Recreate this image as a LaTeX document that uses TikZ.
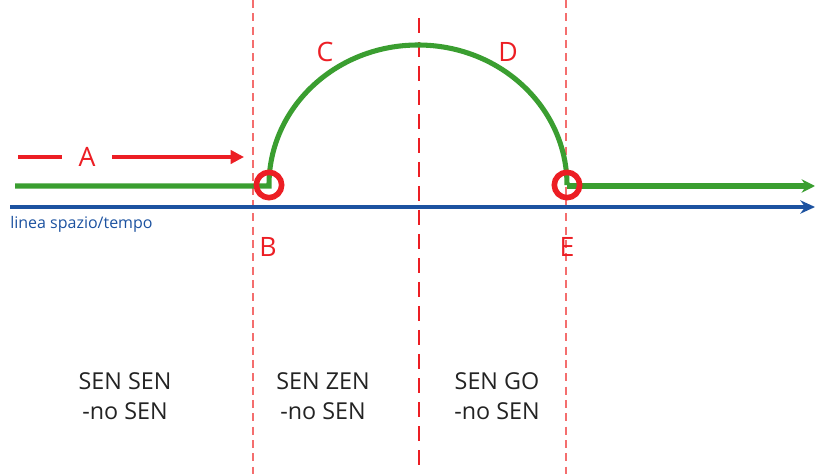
\documentclass[tikz,border=0pt]{standalone}
\usepackage{fontspec}
\setmainfont{Open Sans}
\usetikzlibrary{arrows.meta}
\definecolor{gline}{RGB}{58,158,48}
\definecolor{bline}{RGB}{28,82,160}
\definecolor{rline}{RGB}{236,30,36}
\definecolor{rdash}{RGB}{244,110,110}
\definecolor{txt}{RGB}{35,35,35}
\tikzset{
  thindash/.style={draw=rdash, line width=1.3pt, dash pattern=on 6pt off 4pt},
  middash/.style={draw=rline, line width=1.8pt, dash pattern=on 11pt off 7pt},
  letter/.style={text=rline, font=\fontsize{20}{24}\selectfont, inner sep=0pt},
  zone/.style={text=txt, font=\fontsize{17.5}{22.5}\selectfont, align=center, inner sep=0pt},
  ring/.style={draw=rline, line width=4.2pt, circle, minimum size=19pt, inner sep=0pt},
}
\begin{document}
\begin{tikzpicture}[x=0.75pt,y=-0.75pt]
\useasboundingbox (0,0) rectangle (815,474);
% dashed verticals
\coordinate (v1t) at (253,0); \coordinate (v1b) at (253,474);
\coordinate (v2t) at (419,18); \coordinate (v2b) at (419,474);
\coordinate (v3t) at (566,0); \coordinate (v3b) at (566,474);
\draw[thindash] (v1t) -- (v1b);
\draw[middash] (v2t) -- (v2b);
\draw[thindash] (v3t) -- (v3b);
% blue time line
\coordinate (bs) at (10,207); \coordinate (be) at (815,207);
\draw[bline, line width=2.6pt, -{Stealth[length=11pt,width=10pt]}] (bs) -- (be);
\node[text=bline, font=\fontsize{12}{14}\selectfont, anchor=west, inner sep=0pt] (lab) at (10,224) {linea spazio/tempo};
% green path
\coordinate (gs) at (15,186);
\coordinate (Bp) at (269,185);
\coordinate (Ep) at (567,185);
\coordinate (ge) at (815,186);
\draw[gline, line width=3.8pt] (gs) -- (Bp |- gs) -- (Bp)
   arc[start angle=180, end angle=360, x radius=149, y radius=140];
\draw[gline, line width=3.8pt, -{Stealth[length=10pt,width=10pt]}] (Ep |- ge) -- (ge);
% rings
\node[ring] (B) at (Bp) {};
\node[ring] (E) at (Ep) {};
% arrow A
\node[letter] (A) at (87,157) {A};
\coordinate (a0) at (18,157); \coordinate (a1) at (62,157);
\coordinate (a2) at (112,157); \coordinate (a3) at (244,157);
\draw[rline, line width=2.4pt] (a0) -- (a1);
\draw[rline, line width=2.4pt, -{Triangle[length=10pt,width=10pt]}] (a2) -- (a3);
% letters
\node[letter] (Bl) at (268,247) {B};
\node[letter] (El) at (567,247) {E};
\node[letter] (Cl) at (325,52) {C};
\node[letter] (Dl) at (508,52) {D};
% zones
\node[zone] (z1) at (125,396) {SEN SEN\\-no SEN};
\node[zone] (z2) at (323,396) {SEN ZEN\\-no SEN};
\node[zone] (z3) at (497,396) {SEN GO\\-no SEN};
\end{tikzpicture}
\end{document}
